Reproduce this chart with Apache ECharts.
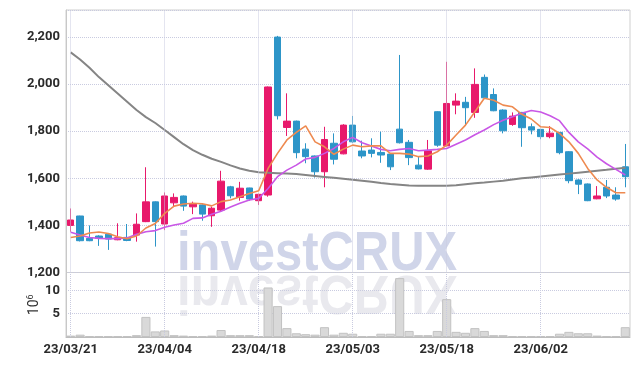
<!DOCTYPE html>
<html><head><meta charset="utf-8">
<script src="https://cdn.jsdelivr.net/npm/echarts@6/dist/echarts.min.js"></script>
<style>html,body{margin:0;padding:0;background:#fff}#c{width:639px;height:366px}</style>
</head><body><div id="c"></div>
<script>
const dates = ['23/03/21','23/03/22','23/03/23','23/03/24','23/03/27','23/03/28','23/03/29','23/03/30','23/03/31','23/04/03',
'23/04/04','23/04/05','23/04/06','23/04/07','23/04/10','23/04/11','23/04/12','23/04/13','23/04/14','23/04/17',
'23/04/18','23/04/19','23/04/20','23/04/21','23/04/24','23/04/25','23/04/26','23/04/27','23/04/28','23/05/02',
'23/05/03','23/05/04','23/05/08','23/05/09','23/05/10','23/05/11','23/05/12','23/05/15','23/05/16','23/05/17',
'23/05/18','23/05/19','23/05/22','23/05/23','23/05/24','23/05/25','23/05/26','23/05/30','23/05/31','23/06/01',
'23/06/02','23/06/05','23/06/07','23/06/08','23/06/09','23/06/12','23/06/13','23/06/14','23/06/15','23/06/16'];
const openV  = [1400,1440,1345,1355,1363,1339,1349,1359,1416,1500, 1406,1496,1525,1479,1487,1441,1465,1564,1519,1559,
 1505,1529,2200,1816,1843,1724,1695,1628,1749,1704, 1826,1716,1720,1710,1703,1809,1753,1656,1639,1883,
 1738,1911,1923,1880,2029,1956,1890,1829,1880,1819, 1808,1777,1795,1713,1593,1576,1513,1562,1529,1649];
const closeV = [1423,1335,1335,1345,1342,1348,1336,1405,1500,1416, 1525,1519,1482,1490,1448,1473,1588,1526,1558,1512,
 1532,1988,1866,1843,1709,1692,1628,1765,1681,1826, 1755,1695,1706,1699,1649,1751,1688,1640,1717,1741,
 1918,1928,1900,1999,1942,1887,1802,1864,1815,1805, 1777,1792,1709,1590,1575,1505,1525,1525,1512,1607];
const lowV   = [1373,1332,1333,1313,1296,1337,1333,1331,1414,1310, 1380,1482,1462,1448,1420,1394,1458,1515,1505,1505,
 1487,1522,1850,1780,1685,1664,1603,1562,1659,1702, 1750,1685,1689,1666,1635,1748,1656,1638,1636,1734,
 1735,1872,1826,1857,1940,1885,1791,1823,1734,1787, 1766,1770,1702,1579,1533,1503,1511,1516,1505,1562];
const highV  = [1472,1441,1400,1358,1365,1409,1406,1451,1647,1502, 1540,1536,1527,1501,1489,1480,1632,1568,1585,1560,
 1535,1990,2205,1961,1845,1749,1697,1819,1791,1830, 1865,1760,1770,1798,1705,2124,1763,1692,1763,1885,
 2095,1961,1946,2067,2041,1982,1893,1880,1882,1833, 1810,1822,1797,1715,1596,1578,1567,1593,1562,1746];
const volume = [0.3,0.5,0.2,0.2,0.2,0.2,0.2,0.4,4.3,1.2, 1.4,0.4,0.3,0.2,0.2,0.3,1.5,0.4,0.4,0.4,
 0.2,10.6,6.6,1.9,0.8,0.6,0.5,2.1,0.5,0.9, 0.7,0.2,0.2,0.7,0.7,12.6,1.3,0.4,0.4,1.3,
 8.1,1.1,0.9,1.9,1.3,0.4,0.4,0.2,0.2,0.2, 0.2,0.2,0.7,1.1,0.8,0.8,0.3,0.2,0.2,2.1];
const ma5  = [1349,1355,1368,1372,1366,1352,1343,1355,1389,1408, 1451,1482,1491,1494,1492,1483,1501,1508,1522,1536,
 1547,1642,1706,1763,1795,1823,1755,1734,1702,1724, 1741,1734,1738,1738,1706,1706,1703,1692,1695,1713,
 1741,1784,1826,1883,1940,1932,1911,1904,1872,1852, 1819,1816,1791,1755,1706,1642,1593,1562,1539,1539];
const ma20 = [1371,1359,1349,1345,1344,1344,1347,1362,1373,1378, 1392,1402,1409,1430,1432,1447,1460,1478,1494,1508,
 1515,1557,1607,1635,1656,1682,1689,1706,1727,1755, 1774,1751,1737,1723,1717,1723,1727,1717,1720,1723,
 1727,1745,1763,1785,1805,1828,1847,1862,1876,1888, 1882,1866,1845,1795,1755,1725,1690,1662,1638,1614];
const ma60 = [2135,2105,2070,2030,1995,1960,1925,1890,1860,1835, 1805,1775,1745,1720,1700,1683,1670,1655,1642,1632,
 1626,1624,1622,1620,1618,1614,1610,1606,1602,1598, 1594,1590,1585,1580,1576,1573,1570,1569,1568,1568,
 1569,1571,1575,1579,1582,1586,1590,1595,1600,1604, 1608,1612,1616,1620,1624,1628,1632,1636,1641,1645];
const priceTicks = [1200,1400,1600,1800,2000,2200];
const volTicks = [5,10];
const labelDates = ['23/03/21','23/04/04','23/04/18','23/05/03','23/05/18','23/06/02'];

const candleData = dates.map((d,i)=>[openV[i],closeV[i],lowV[i],highV[i]]);
const FONT = "Roboto, sans-serif";
const gridColor = '#c9cbe0';
const vLines = {
  silent:true, symbol:['none','none'], label:{show:false},
  lineStyle:{color:gridColor, type:'dotted', width:1},
  data: labelDates.map(d=>({xAxis:d}))
};
const lblStyle = {color:'#2a2a2a', fontFamily:FONT, fontSize:13, fontWeight:'bold'};

const chart = echarts.init(document.getElementById('c'), null, {renderer:'canvas'});
chart.setOption({
  animation:false,
  backgroundColor:'#fff',
  graphic:[
    {type:'text', x:177, y:255, scaleX:0.89, z:0, silent:true,
     style:{text:'investCRUX', font:'bold 55px "Liberation Sans", Arial, sans-serif', fill:'#d0d5e9', verticalAlign:'middle'}},
    {type:'text', x:177, y:291, scaleX:0.89, scaleY:-1, z:0, silent:true,
     style:{text:'investCRUX', font:'bold 55px "Liberation Sans", Arial, sans-serif', fill:'#e9e9ee', verticalAlign:'middle'}}
  ],
  grid:[
    {left:66, right:9, top:10, height:262.5, show:true, borderColor:'#cfcfcf', borderWidth:1, backgroundColor:'transparent'},
    {left:66, right:9, top:272.5, height:64.5, show:true, borderColor:'#cfcfcf', borderWidth:1, backgroundColor:'transparent'}
  ],
  xAxis:[
    {type:'category', gridIndex:0, data:dates, boundaryGap:true,
     axisLine:{show:false}, axisTick:{show:false}, axisLabel:{show:false}, splitLine:{show:false}},
    {type:'category', gridIndex:1, data:dates, boundaryGap:true,
     axisLine:{show:true, lineStyle:{color:'#bdbdbd'}}, axisTick:{show:false},
     axisLabel:Object.assign({show:true, interval:9, margin:6}, lblStyle),
     splitLine:{show:false}}
  ],
  yAxis:[
    {type:'value', gridIndex:0, min:1200, max:2315, interval:200,
     axisLine:{show:true, lineStyle:{color:'#c8c8c8'}}, axisTick:{show:false},
     axisLabel:Object.assign({margin:6, formatter:v=> priceTicks.indexOf(v)>=0 ? v.toLocaleString('en-US') : ''}, lblStyle),
     splitLine:{show:true, lineStyle:{color:gridColor, type:'dotted', width:1}}},
    {type:'value', gridIndex:1, min:0, max:13.8, interval:5,
     name:'{b|10}{s|6}', nameLocation:'middle', nameRotate:90, nameGap:24, nameMoveOverlap:false,
     nameTextStyle:{rich:{b:{fontSize:14, color:'#333', fontFamily:FONT}, s:{fontSize:9, color:'#333', fontFamily:FONT, verticalAlign:'top', padding:[0,0,7,0]}}},
     axisLine:{show:true, lineStyle:{color:'#c8c8c8'}}, axisTick:{show:false},
     axisLabel:Object.assign({margin:6, formatter:v=> volTicks.indexOf(v)>=0 ? String(v) : ''}, lblStyle),
     splitLine:{show:true, lineStyle:{color:gridColor, type:'dotted', width:1}}}
  ],
  series:[
    {type:'candlestick', xAxisIndex:0, yAxisIndex:0, data:candleData, barWidth:7, z:3,
     itemStyle:{color:'#e8196b', color0:'#2d95c8', borderColor:'#e8196b', borderColor0:'#2d95c8', borderWidth:1},
     markLine:vLines},
    {type:'line', xAxisIndex:0, yAxisIndex:0, data:ma60, symbol:'none', z:4,
     lineStyle:{color:'#858585', width:2}},
    {type:'line', xAxisIndex:0, yAxisIndex:0, data:ma20, symbol:'none', z:5,
     lineStyle:{color:'#c957e6', width:1.6}},
    {type:'line', xAxisIndex:0, yAxisIndex:0, data:ma5, symbol:'none', z:6,
     lineStyle:{color:'#ee8a50', width:1.6}},
    {type:'bar', xAxisIndex:1, yAxisIndex:1, data:volume, barCategoryGap:'3%', z:3,
     itemStyle:{color:'#d9d9d9', borderColor:'#c2c2c2', borderWidth:1},
     markLine:vLines}
  ]
});
</script></body></html>
